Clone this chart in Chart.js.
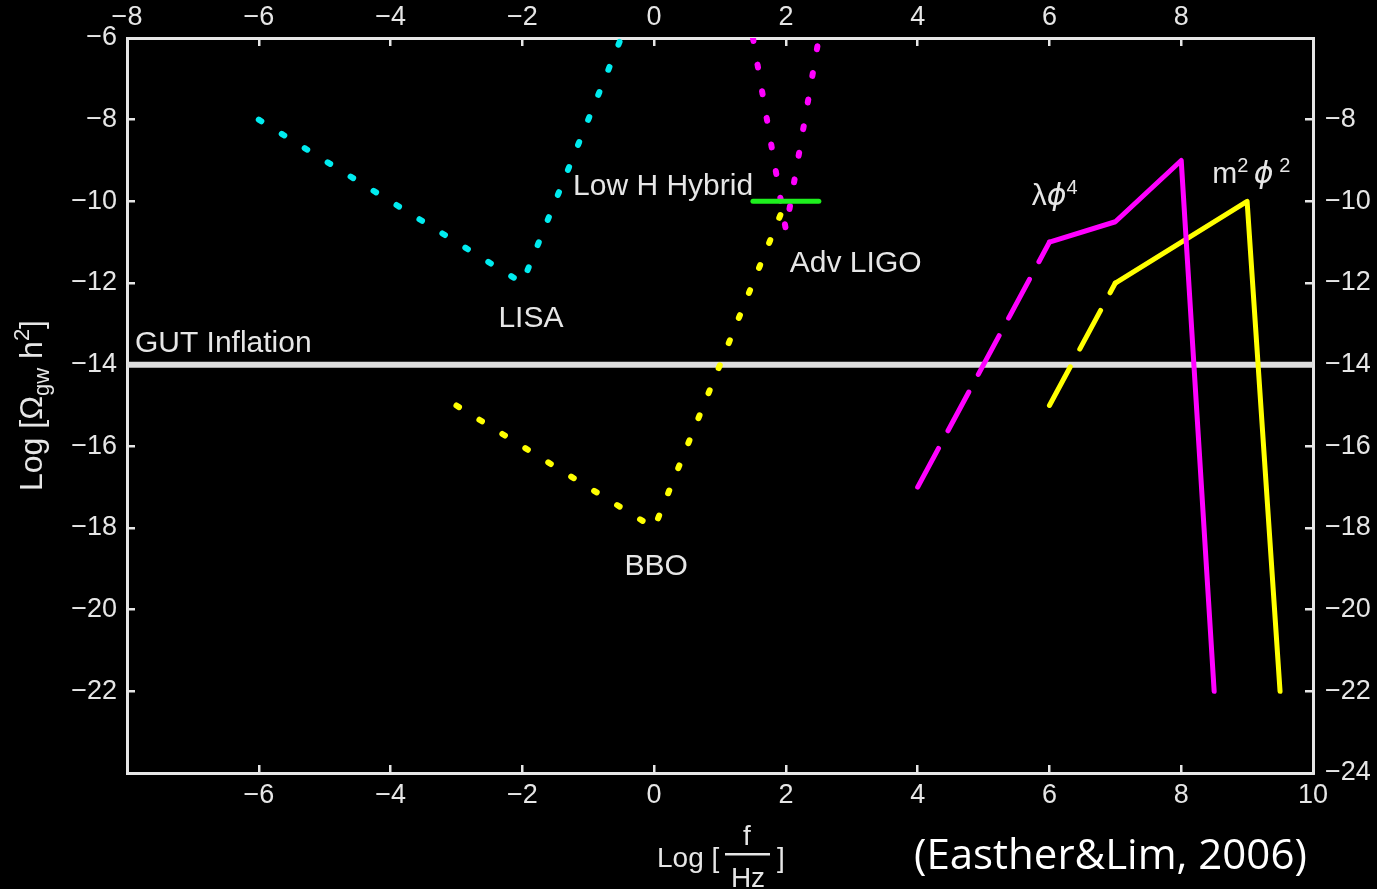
<!DOCTYPE html>
<html>
<head>
<meta charset="utf-8">
<script src="https://cdn.jsdelivr.net/npm/chart.js@4.4.0/dist/chart.umd.min.js"></script>
<style>
  html, body { margin: 0; padding: 0; background: #000; }
  canvas { display: block; }
</style>
</head>
<body>
<canvas id="gw" width="1377" height="889"></canvas>
<script>
// axis ranges (log10 f/Hz, log10 Omega_gw h^2)
const xRange = [-8, 10];
const yRange = [-24, -6];

// detector sensitivity curves
const lisaX = [-6, -2, -0.5];
const lisaY = [-8, -12, -6];
const bboX = [-3, 0, 2];
const bboY = [-15, -18, -10];
const ligoX = [1.5, 2, 2.5];
const ligoY = [-6, -10.7, -6];

// model predictions
const hybridX = [1.5, 2.5];
const hybridY = [-10, -10];
const gutX = [-8, 10];
const gutY = [-14, -14];
const lambdaX = [4, 6, 7, 8, 8.5];
const lambdaY = [-17, -11, -10.5, -9, -22];
const massX = [6, 7, 9, 9.5];
const massY = [-15, -12, -10, -22];

const pts = (xs, ys) => xs.map((x, i) => ({x: x, y: ys[i]}));
const fmt = v => v < 0 ? '\u2212' + Math.abs(v) : String(v);

const sans = "'Liberation Sans', Arial, sans-serif";
const txt = '#e6e6e6';
const dots = [3, 24];
const dashes = [44, 20];

function line(data, color, extra) {
  return Object.assign({
    data: data,
    showLine: true,
    borderColor: color,
    borderWidth: 5,
    borderCapStyle: 'round',
    borderJoinStyle: 'round',
    pointRadius: 0,
    pointHoverRadius: 0,
    fill: false
  }, extra || {});
}

function rich(ctx, parts, x, y, align) {
  let w = 0;
  parts.forEach(p => { ctx.font = p[1]; w += ctx.measureText(p[0]).width; });
  let cx = align === 'center' ? x - w / 2 : x;
  parts.forEach(p => {
    ctx.font = p[1];
    ctx.fillText(p[0], cx, y + (p[2] || 0));
    cx += ctx.measureText(p[0]).width;
  });
}

const textPlugin = {
  id: 'gwText',
  afterDatasetsDraw(chart) {
    const ctx = chart.ctx;
    const xs = chart.scales.x, ys = chart.scales.y;
    const px = v => xs.getPixelForValue(v), py = v => ys.getPixelForValue(v);
    const f30 = '30px ' + sans, f20 = '20px ' + sans;
    const phi = "italic 30px 'DejaVu Sans', sans-serif";
    ctx.save();
    ctx.fillStyle = txt;
    ctx.textBaseline = 'alphabetic';
    ctx.textAlign = 'left';
    rich(ctx, [['GUT Inflation', f30]], px(-7.88), py(-13.69));
    rich(ctx, [['LISA', f30]], px(-1.87), py(-13.08), 'center');
    rich(ctx, [['BBO', f30]], px(0.03), py(-19.15), 'center');
    rich(ctx, [['Low H Hybrid', f30]], px(-1.23), py(-9.85));
    rich(ctx, [['Adv LIGO', f30]], px(2.06), py(-11.73));
    rich(ctx, [['\u03bb', f30], ['\u03d5', phi], ['4', f20, -11]], px(5.73), py(-10.09));
    rich(ctx, [['m', f30], ['2', f20, -11], [' ', f20], ['\u03d5', phi], [' 2', f20, -11]], px(8.47), py(-9.55));
    ctx.restore();
  },
  afterDraw(chart) {
    const ctx = chart.ctx;
    const a = chart.chartArea;
    const f32 = '32px ' + sans, f22 = '22px ' + sans;
    ctx.save();
    ctx.fillStyle = txt;
    ctx.textBaseline = 'alphabetic';
    // y title, rotated
    ctx.save();
    ctx.translate(42, (a.top + a.bottom) / 2);
    ctx.rotate(-Math.PI / 2);
    rich(ctx, [['Log [\u03a9', f32], ['gw', f22, 7], [' h', f32], ['2', f22, -13], [']', f32]], 0, 0, 'center');
    ctx.restore();
    // x title with fraction
    const cx = (a.left + a.right) / 2;
    ctx.font = '28px ' + sans;
    ctx.textAlign = 'left';
    ctx.fillText('Log [', cx - 63, a.bottom + 94);
    ctx.fillText(']', cx + 57, a.bottom + 94);
    ctx.textAlign = 'center';
    ctx.fillText('f', cx + 27, a.bottom + 72);
    ctx.fillText('Hz', cx + 28, a.bottom + 114);
    ctx.fillRect(cx + 5, a.bottom + 80, 45, 2.5);
    // citation
    ctx.fillStyle = '#ffffff';
    ctx.textAlign = 'left';
    ctx.font = "42px 'Open Sans', sans-serif";
    ctx.fillText('(Easther&Lim, 2006)', 914, 869);
    ctx.restore();
  }
};

function axis(pos, hide, size, pad) {
  const horiz = pos === 'top' || pos === 'bottom';
  return {
    type: 'linear',
    position: pos,
    min: horiz ? xRange[0] : yRange[0],
    max: horiz ? xRange[1] : yRange[1],
    afterFit: s => { if (horiz) s.height = size; else s.width = size; },
    border: {display: true, color: '#e6e6e6', width: 3},
    grid: {drawOnChartArea: false, drawTicks: true, tickLength: -8, tickColor: '#e6e6e6', lineWidth: 2.5},
    ticks: {
      stepSize: 2,
      autoSkip: false,
      maxRotation: 0,
      padding: pad,
      color: txt,
      font: {family: sans, size: 27},
      callback: v => v === hide ? '' : fmt(v)
    }
  };
}

new Chart(document.getElementById('gw'), {
  type: 'scatter',
  data: {
    datasets: [
      line(pts(hybridX, hybridY), '#1ef01e', {order: 1}),
      line(pts(lisaX, lisaY), '#00ecf0', {borderDash: dots, borderWidth: 6, order: 2}),
      line(pts(ligoX, ligoY), '#ff00ff', {borderDash: dots, borderWidth: 6, order: 3}),
      line(pts(bboX, bboY), '#ffff00', {borderDash: dots, borderWidth: 6, order: 4}),
      line(pts(lambdaX, lambdaY), '#ff00ff', {
        order: 5,
        segment: {borderDash: c => c.p0DataIndex === 0 ? dashes : []}
      }),
      line(pts(massX, massY), '#ffff00', {
        order: 6,
        segment: {borderDash: c => c.p0DataIndex === 0 ? dashes : []}
      }),
      line(pts(gutX, gutY), '#dedede', {borderWidth: 6, borderCapStyle: 'butt', order: 7})
    ]
  },
  options: {
    responsive: false,
    animation: false,
    layout: {padding: 0},
    plugins: {legend: {display: false}, tooltip: {enabled: false}},
    scales: {
      x: axis('bottom', -8, 116, 14),
      x2: axis('top', 10, 38, 12),
      y: axis('left', -24, 127, 18),
      y2: axis('right', -6, 64, 20)
    }
  },
  plugins: [textPlugin]
});
</script>
</body>
</html>
